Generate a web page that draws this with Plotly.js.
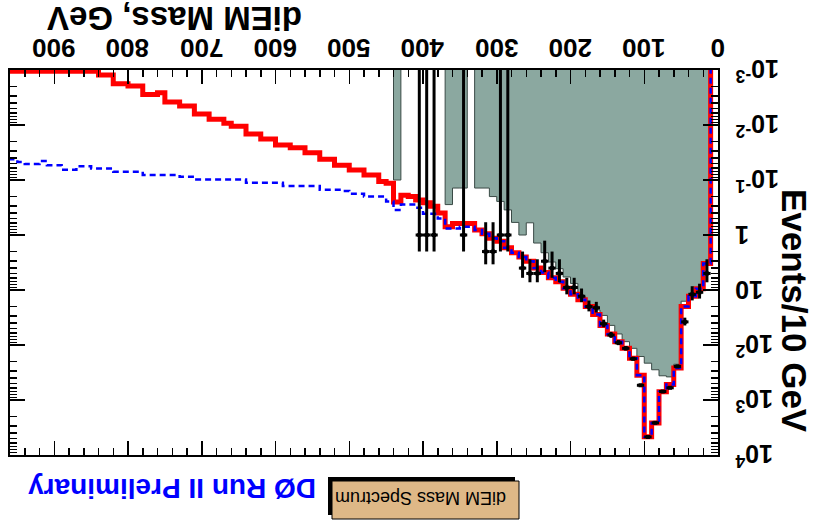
<!DOCTYPE html>
<html><head><meta charset="utf-8">
<script src="https://cdn.plot.ly/plotly-3.0.1.min.js"></script>
<style>html,body{margin:0;padding:0;background:#fff}#chart{width:837px;height:524px}</style>
</head><body><div id="chart"></div>
<script>
// bin width 10 GeV, bins from 0 to 960 GeV
const binWidth = 10;

// total SM prediction (red), events / 10 GeV, bins 0-10, 10-20, ...
const smTotal = [0, 3.3, 9.5, 13, 20, 263, 525, 708, 2630, 4680,
 355, 174, 115, 87, 63, 44, 28, 20, 15, 12,
 9.3, 7.1, 6.0, 4.8, 4.0, 3.0, 2.5, 2.1, 1.7, 1.3,
 1.15, 0.95, 0.81, 0.62, 0.62, 0.62, 0.71, 0.40, 0.30, 0.26,
 0.23, 0.20, 0.19, 0.25, 0.115, 0.107, 0.081, 0.081, 0.066, 0.066,
 0.054, 0.054, 0.042, 0.042, 0.032, 0.032, 0.026, 0.026, 0.023, 0.023,
 0.018, 0.018, 0.0145, 0.0145, 0.0105, 0.0105, 0.0093, 0.0079, 0.0079, 0.0063,
 0.0063, 0.0045, 0.0045, 0.0038, 0.0038, 0.0026, 0.0028, 0.0028, 0.00195, 0.00195,
 0.00178, 0.00178, 0.00123, 0.00123, 0.00105, 0.00105, 0.00105, 0.00105, 0.00105, 0.00105,
 0.00105, 0.00105, 0.00105, 0.00105, 0.00105, 0.00105];

// SM + signal (blue dashed)
const smSignal = [0, 3.3, 9.5, 13, 20, 263, 525, 708, 2630, 4680,
 355, 174, 115, 87, 63, 44, 28, 20, 15, 12,
 9.3, 7.1, 6.0, 4.8, 4.0, 3.0, 2.5, 2.1, 1.7, 1.3,
 1.15, 0.95, 0.81, 0.71, 0.71, 0.76, 0.76, 0.50, 0.41, 0.41,
 0.32, 0.28, 0.28, 0.35, 0.245, 0.20, 0.20, 0.20, 0.178, 0.178,
 0.158, 0.151, 0.151, 0.151, 0.129, 0.129, 0.129, 0.129, 0.129, 0.112,
 0.112, 0.112, 0.112, 0.112, 0.098, 0.098, 0.098, 0.098, 0.098, 0.098,
 0.098, 0.087, 0.087, 0.081, 0.081, 0.081, 0.081, 0.081, 0.071, 0.071,
 0.071, 0.071, 0.062, 0.062, 0.062, 0.056, 0.056, 0.065, 0.065, 0.054,
 0.054, 0.045, 0.051, 0.051, 0.047, 0.042];

// instrumental background (grey filled), bins 0..600 GeV
const instrBkg = [0, 3.2, 9.0, 11.5, 16, 224, 380, 363, 282, 214,
 162, 115, 87, 63, 44, 29, 23, 18.6, 13, 7.6,
 5.8, 4.1, 3.1, 2.1, 1.4, 0.6, 1.0, 0.59, 0.35, 0.245,
 0.20, 0.14, 0.14, 0, 0.14, 0.14, 0.28, 0, 0, 0,
 0, 0, 0, 0.1, 0, 0, 0, 0, 0, 0,
 0, 0, 0, 0, 0, 0, 0, 0, 0, 0, 0];

// data: lower bin edge (GeV) and events
const dataMass = [10,20,30,40,50,60,70,80,90,100,110,120,130,140,150,160,170,180,190,200,210,220,230,240,250,260,280,290,300,310,340,380,390,400];
const dataCounts = [5,11,12,38,245,600,700,2600,4700,540,178,115,91,66,41,21,20,13,9,9,5,4,3,5,5,4,1,1,2,2,1,1,1,1];

const xTickVals = [0,100,200,300,400,500,600,700,800,900];
const xTickText = ['0','100','200','300','400','500','600','700','800','900'];
const yTickVals = [1e-3,1e-2,1e-1,1,10,100,1000,10000];
const yTickText = ['10<sup>-3</sup>','10<sup>-2</sup>','10<sup>-1</sup>','1','10','10<sup>2</sup>','10<sup>3</sup>','10<sup>4</sup>'];

const FLOOR = 1e-6; // empty bins drawn off-scale
function histXY(vals){
  const x=[], y=[];
  for(let i=0;i<vals.length;i++){ x.push(i*binWidth); y.push(vals[i]>0?vals[i]:FLOOR); }
  x.push(vals.length*binWidth); y.push(y[y.length-1]);
  return {x, y};
}
const g = histXY(instrBkg), r = histXY(smTotal), b = histXY(smSignal);

const minorY = [];
for(let e=-3;e<4;e++){ for(let k=2;k<10;k++){ minorY.push(k*Math.pow(10,e)); } }

const FONT = 'Liberation Sans, Arial, Helvetica, sans-serif';

const traces = [
  {x:g.x, y:g.y, type:'scatter', mode:'lines', line:{shape:'hv', color:'#3a4a46', width:1},
   fill:'tozeroy', fillcolor:'rgb(139,168,160)', hoverinfo:'skip'},
  {x:r.x, y:r.y, type:'scatter', mode:'lines', line:{shape:'hv', color:'#ff0000', width:5}},
  {x:b.x, y:b.y, type:'scatter', mode:'lines', line:{shape:'hv', color:'#0000ff', width:2.5, dash:'6px,4px'}},
  {x:dataMass.map(m=>m+binWidth/2), y:dataCounts, type:'scatter', mode:'markers',
   marker:{color:'black', size:4, symbol:'square'},
   error_y:{type:'data', array:dataCounts.map(n=>Math.sqrt(n)), color:'black', thickness:3, width:0},
   error_x:{type:'constant', value:binWidth/2, color:'black', thickness:3, width:0}}
];

const px = v => (v-10)/708, py = v => (455-v)/385;

const annotations = [
  {text:'diEM Mass, GeV', xref:'paper', yref:'paper', x:px(175), y:py(18), textangle:180, showarrow:false,
   xanchor:'center', yanchor:'middle', font:{family:FONT, size:33, weight:'bold'}},
  {text:'Events/10 GeV', xref:'paper', yref:'paper', x:px(795), y:py(311), textangle:90, showarrow:false,
   xanchor:'center', yanchor:'middle', font:{family:FONT, size:35, weight:'bold'}},
  {text:'DØ Run II Preliminary', xref:'paper', yref:'paper', x:px(172), y:py(489), textangle:180, showarrow:false,
   xanchor:'center', yanchor:'middle', font:{family:FONT, size:28, weight:'bold', color:'#0000ff'}},
  {text:'diEM Mass Spectrum', xref:'paper', yref:'paper', x:px(421), y:py(498), textangle:180, showarrow:false,
   xanchor:'center', yanchor:'middle', font:{family:FONT, size:18, color:'black'}}
];
xTickVals.forEach((v,i)=>annotations.push({text:xTickText[i], xref:'x', yref:'paper', x:v, y:py(48),
  textangle:180, showarrow:false, xanchor:'center', yanchor:'middle', font:{family:FONT, size:26, weight:'bold'}}));
yTickVals.forEach((v,i)=>annotations.push({text:yTickText[i], xref:'paper', yref:'y', x:px(733), y:Math.log10(v),
  textangle:180, showarrow:false, xanchor:'left', yanchor:'middle', font:{family:FONT, size:25, weight:'bold'}}));

const layout = {
  width:837, height:524,
  margin:{l:10, r:119, t:70, b:69},
  paper_bgcolor:'white', plot_bgcolor:'white',
  showlegend:false,
  font:{family:FONT, color:'black'},
  xaxis:{range:[960,0], side:'top', showline:true, linecolor:'black', linewidth:2, mirror:'allticks',
    ticks:'inside', ticklen:14, tickwidth:1.5, tickcolor:'black', tickmode:'array', tickvals:xTickVals,
    minor:{ticks:'inside', ticklen:7, tickwidth:1.5, tickcolor:'black', dtick:20, tick0:0},
    showticklabels:false, showgrid:false, zeroline:false},
  yaxis:{type:'log', range:[4,-3], side:'right', showline:true, linecolor:'black', linewidth:2, mirror:'allticks',
    ticks:'inside', ticklen:15, tickwidth:1.5, tickcolor:'black', tickmode:'array', tickvals:yTickVals,
    minor:{ticks:'inside', ticklen:7, tickwidth:1.5, tickcolor:'black', tickmode:'array', tickvals:minorY},
    showticklabels:false, showgrid:false, zeroline:false},
  shapes:[
    {type:'rect', xref:'paper', yref:'paper', x0:px(328), x1:px(515), y0:py(515), y1:py(477), fillcolor:'black', line:{width:0}},
    {type:'rect', xref:'paper', yref:'paper', x0:px(332), x1:px(519), y0:py(519), y1:py(481), fillcolor:'#DEB887', line:{color:'black', width:1}}
  ],
  annotations: annotations
};

Plotly.newPlot('chart', traces, layout, {staticPlot:true, displayModeBar:false});
</script></body></html>
